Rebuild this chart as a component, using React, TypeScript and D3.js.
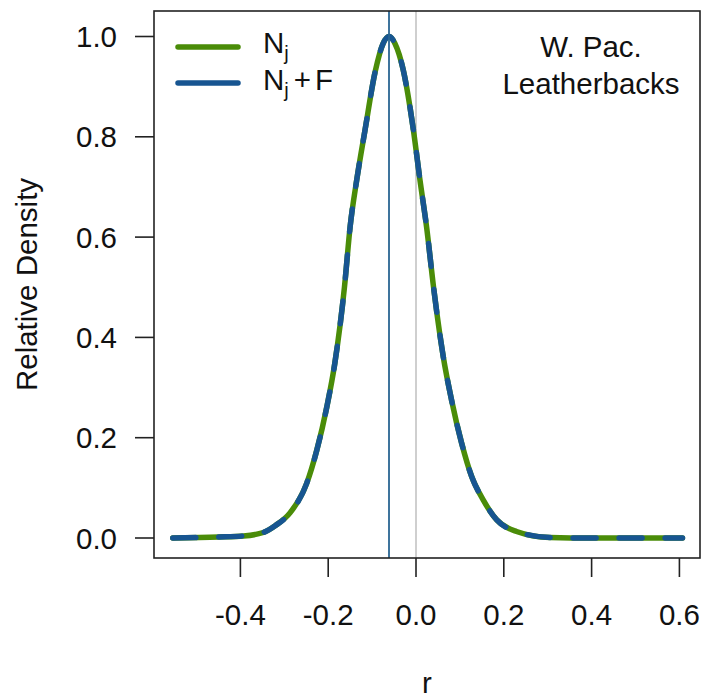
import React from "react";
import * as d3 from "d3";

// density curve (r, relative density)
const rValues = [-0.554, -0.45, -0.393, -0.348, -0.32, -0.287, -0.249, -0.226, -0.203, -0.185, -0.163, -0.15, -0.135, -0.116, -0.093, -0.075, -0.061, -0.048, -0.029, -0.006, 0.009, 0.024, 0.04, 0.062, 0.081, 0.104, 0.127, 0.153, 0.184, 0.229, 0.305, 0.4, 0.5, 0.607];
const densityValues = [0, 0.002, 0.004, 0.011, 0.025, 0.05, 0.109, 0.175, 0.262, 0.348, 0.5, 0.621, 0.714, 0.814, 0.93, 0.986, 1.0, 0.986, 0.933, 0.814, 0.714, 0.621, 0.5, 0.362, 0.275, 0.189, 0.122, 0.076, 0.036, 0.013, 0.001, 0, 0, 0];
const modeR = -0.0615;
const refR = 0;
const xTicks = [-0.4, -0.2, 0.0, 0.2, 0.4, 0.6];
const yTicks = [0, 0.2, 0.4, 0.6, 0.8, 1.0];
const seriesNames = ["Nj", "Nj+F"];
const titleLines = ["W. Pac.", "Leatherbacks"];

const GREEN = "#4a8c08";
const BLUE = "#175591";
const VLINE = "#2a6592";
const FONT = "'Liberation Sans', Arial, Helvetica, sans-serif";
const FS = 29.5;

const fmt = (v: number) => d3.format(".1f")(v).replace("\u2212", "-");

export default function App() {
  const left = 154, right = 700, top = 11, bottom = 558;
  const x = d3.scaleLinear().domain([-0.5968, 0.6469]).range([left, right]);
  const y = d3.scaleLinear().domain([0, 1]).range([538, 36.5]);
  const pts = rValues.map((r, i) => [r, densityValues[i]] as [number, number]);
  const line = d3
    .line<[number, number]>()
    .x((d) => x(d[0]))
    .y((d) => y(d[1]))
    .curve(d3.curveMonotoneX);
  const path = line(pts) || "";
  const axisColor = "#222";

  return (
    <div style={{ position: "absolute", left: 0, top: 0 }}>
      <svg width={701} height={700} style={{ display: "block", background: "#fff" }} fontFamily={FONT}>
        <defs>
          <clipPath id="plotclip">
            <rect x={left} y={top} width={right - left} height={bottom - top} />
          </clipPath>
        </defs>
        <g clipPath="url(#plotclip)">
          <line x1={x(refR)} x2={x(refR)} y1={top} y2={bottom} stroke="#cfcfcf" strokeWidth={2} />
          <path d={path} fill="none" stroke={GREEN} strokeWidth={5.5} strokeLinecap="round" strokeLinejoin="round" />
          <path d={path} fill="none" stroke={BLUE} strokeWidth={5.5} strokeLinecap="round" strokeLinejoin="round" strokeDasharray="23 23" />
          <line x1={x(modeR)} x2={x(modeR)} y1={top} y2={bottom} stroke={VLINE} strokeWidth={1.8} />
        </g>
        {/* box */}
        <rect x={left} y={top} width={right - left} height={bottom - top} fill="none" stroke={axisColor} strokeWidth={1.6} />
        {/* x axis */}
        {xTicks.map((t) => (
          <g key={"x" + t}>
            <line x1={x(t)} x2={x(t)} y1={bottom} y2={bottom + 19} stroke={axisColor} strokeWidth={1.6} />
            <text x={x(t)} y={625} fontSize={FS} textAnchor="middle" fill="#111">
              {fmt(t)}
            </text>
          </g>
        ))}
        {/* y axis */}
        {yTicks.map((t) => (
          <g key={"y" + t}>
            <line x1={left - 19} x2={left} y1={y(t)} y2={y(t)} stroke={axisColor} strokeWidth={1.6} />
            <text x={117} y={y(t)} dy="0.36em" fontSize={FS} textAnchor="end" fill="#111">
              {fmt(t)}
            </text>
          </g>
        ))}
        <text x={(left + right) / 2} y={693} fontSize={FS} textAnchor="middle" fill="#111">r</text>
        <text
          transform={`translate(37,${(top + bottom) / 2}) rotate(-90)`}
          fontSize={FS}
          textAnchor="middle"
          fill="#111"
        >
          Relative Density
        </text>
        {/* legend */}
        <line x1={178} x2={238} y1={47} y2={47} stroke={GREEN} strokeWidth={5.5} strokeLinecap="round" />
        <line x1={178} x2={238} y1={83} y2={83} stroke={BLUE} strokeWidth={5.5} strokeLinecap="round" />
        <text x={263} y={53} fontSize={FS} fill="#111">
          {seriesNames[0].charAt(0)}
          <tspan fontSize={20} dy={7}>{seriesNames[0].slice(1)}</tspan>
        </text>
        <text x={263} y={90} fontSize={FS} fill="#111">
          {seriesNames[1].charAt(0)}
          <tspan fontSize={20} dy={7}>j</tspan>
          <tspan dy={-7} dx={5}>+</tspan>
          <tspan dx={4}>F</tspan>
        </text>
        {/* title */}
        {titleLines.map((s, i) => (
          <text key={s} x={591} y={57 + i * 37} fontSize={FS} textAnchor="middle" fill="#111">
            {s}
          </text>
        ))}
      </svg>
    </div>
  );
}
